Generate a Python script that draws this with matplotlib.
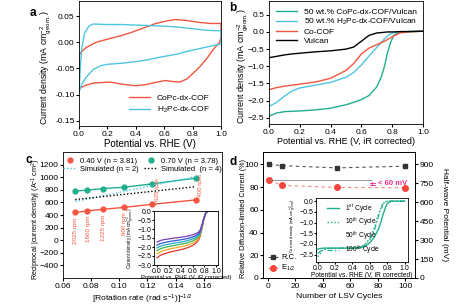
import matplotlib
matplotlib.use("Agg")
import matplotlib.pyplot as plt
from matplotlib.lines import Line2D

plt.rcParams['font.family'] = ['Liberation Sans', 'DejaVu Sans']
plt.rcParams['font.size'] = 6
plt.rcParams['mathtext.fontset'] = 'custom'
plt.rcParams['mathtext.rm'] = 'Liberation Sans'
plt.rcParams['mathtext.it'] = 'Liberation Sans:italic'
plt.rcParams['xtick.direction'] = 'out'
plt.rcParams['ytick.direction'] = 'out'
plt.rcParams['xtick.major.size'] = 2
plt.rcParams['ytick.major.size'] = 2
plt.rcParams['xtick.major.pad'] = 1.5
plt.rcParams['ytick.major.pad'] = 1.2
plt.rcParams['axes.linewidth'] = 0.6

RED = '#F4553F'
CYAN = '#4EC6E0'
GREEN = '#1FAF8E'
MAG = '#E8308A'

# ---- a: CV ----
cv_co_x = [0.0, 0.01, 0.05, 0.12, 0.2, 0.3, 0.38, 0.46, 0.54, 0.62, 0.68, 0.75, 0.85, 0.93, 1.0,
           1.0, 0.99, 0.95, 0.9, 0.85, 0.8, 0.76, 0.71, 0.66, 0.61, 0.55, 0.47, 0.4, 0.3, 0.22, 0.15, 0.1, 0.05, 0.01, 0.0, 0.0]
cv_co_y = [-0.028, -0.02, -0.01, 0.0, 0.006, 0.013, 0.02, 0.028, 0.036, 0.041, 0.0436, 0.042, 0.038, 0.036, 0.036,
           0.01, 0.0, -0.012, -0.031, -0.047, -0.06, -0.07, -0.076, -0.075, -0.073, -0.076, -0.081, -0.083, -0.08, -0.076, -0.077, -0.078, -0.082, -0.087, -0.088, -0.028]
cv_h2_x = [0.0, 0.005, 0.01, 0.02, 0.04, 0.07, 0.1, 0.2, 0.3, 0.4, 0.5, 0.6, 0.7, 0.8, 0.9, 1.0,
           1.0, 0.95, 0.9, 0.8, 0.75, 0.7, 0.6, 0.54, 0.47, 0.4, 0.3, 0.2, 0.15, 0.1, 0.05, 0.02, 0.0]
cv_h2_y = [-0.095, -0.07, -0.045, -0.01, 0.018, 0.031, 0.035, 0.034, 0.034, 0.033, 0.032, 0.031, 0.029, 0.026, 0.023, 0.022,
           -0.003, -0.006, -0.009, -0.015, -0.018, -0.022, -0.027, -0.03, -0.034, -0.037, -0.04, -0.042, -0.045, -0.052, -0.067, -0.08, -0.095]

# ---- b: LSV ----
lsv_x = [0.0, 0.05, 0.1, 0.15, 0.2, 0.3, 0.4, 0.5, 0.55, 0.6, 0.65, 0.7, 0.73, 0.75, 0.77, 0.79, 0.81, 0.85, 0.9, 1.0]
lsv_vulcan = [-0.75, -0.71, -0.67, -0.64, -0.62, -0.58, -0.55, -0.5, -0.44, -0.27, -0.1, -0.03, -0.02, -0.01, 0.0, 0.0, 0.0, 0.01, 0.01, 0.02]
lsv_cocof = [-1.68, -1.62, -1.58, -1.55, -1.52, -1.46, -1.35, -1.12, -0.92, -0.64, -0.47, -0.37, -0.31, -0.27, -0.22, -0.17, -0.12, -0.03, 0.0, 0.02]
lsv_h2pc = [-2.17, -2.05, -1.87, -1.72, -1.63, -1.55, -1.47, -1.32, -1.18, -0.96, -0.7, -0.45, -0.3, -0.2, -0.12, -0.05, -0.02, 0.0, 0.01, 0.02]
lsv_copc = [-2.45, -2.36, -2.32, -2.31, -2.3, -2.27, -2.22, -2.12, -2.05, -1.97, -1.85, -1.6, -1.3, -1.0, -0.6, -0.3, -0.1, 0.0, 0.01, 0.02]

# ---- c: Koutecky-Levich ----
kl_x = [0.0687, 0.0773, 0.0883, 0.1030, 0.1236, 0.1545]
kl_040 = [440, 465, 490, 520, 570, 640]
kl_070 = [780, 795, 820, 840, 895, 985]
sim_x = [0.0687, 0.1545]
sim_n2 = [615, 1010]
sim_n4 = [645, 850]
rpm_labels = ['2025 rpm', '1600 rpm', '1225 rpm', '900 rpm', '625 rpm', '400 rpm']

ins_c_x = [0, 0.05, 0.1, 0.2, 0.3, 0.4, 0.5, 0.6, 0.65, 0.7, 0.73, 0.76, 0.79, 0.82, 0.85, 0.9, 1.0]
ins_c_curves = {
    '#E8322B': [-2.6, -2.48, -2.4, -2.3, -2.22, -2.15, -2.06, -1.92, -1.81, -1.62, -1.4, -0.97, -0.5, -0.15, -0.02, 0, 0],
    '#F5A623': [-2.38, -2.28, -2.21, -2.12, -2.05, -1.99, -1.91, -1.79, -1.69, -1.53, -1.32, -0.92, -0.48, -0.15, -0.02, 0, 0],
    '#3DB34A': [-2.2, -2.11, -2.05, -1.97, -1.91, -1.85, -1.78, -1.67, -1.58, -1.44, -1.25, -0.88, -0.46, -0.14, -0.02, 0, 0],
    '#22AACC': [-2.05, -1.97, -1.91, -1.84, -1.78, -1.73, -1.66, -1.56, -1.48, -1.35, -1.18, -0.84, -0.44, -0.14, -0.02, 0, 0],
    '#3558D8': [-1.9, -1.82, -1.77, -1.7, -1.65, -1.6, -1.54, -1.45, -1.38, -1.27, -1.12, -0.8, -0.42, -0.13, -0.02, 0, 0],
    '#7A3DB8': [-1.72, -1.65, -1.6, -1.55, -1.5, -1.46, -1.41, -1.33, -1.27, -1.18, -1.05, -0.75, -0.4, -0.12, -0.02, 0, 0],
}

# ---- d: stability ----
cycles = [1, 10, 50, 100]
rel_current = [100, 99, 97, 98.5]
e_half = [775, 735, 718, 716]

ins_d_x = [0.0, 0.03, 0.06, 0.1, 0.2, 0.3, 0.4, 0.5, 0.55, 0.6, 0.65, 0.7, 0.73, 0.75, 0.78, 0.8, 0.83, 0.85, 0.9, 1.0]
cyc_1 = [-2.25, -2.22, -2.2, -2.2, -2.2, -2.2, -2.2, -2.18, -2.1, -1.95, -1.7, -1.3, -0.95, -0.65, -0.3, -0.12, -0.02, 0.0, 0.0, 0.0]
cyc_10 = [-2.6, -2.45, -2.3, -2.22, -2.2, -2.2, -2.21, -2.15, -2.0, -1.75, -1.3, -0.6, -0.3, -0.12, -0.02, 0.0, 0.0, 0.0, 0.0, 0.0]
cyc_100 = [-2.45, -2.35, -2.27, -2.22, -2.2, -2.2, -2.21, -2.15, -2.02, -1.8, -1.4, -0.7, -0.35, -0.15, -0.03, 0.0, 0.0, 0.0, 0.0, 0.0]

fig = plt.figure(figsize=(4.61, 3.07), dpi=100)
YLAB = 'Current density (mA cm$^{-2}_{\\rm geom.}$)'


def panel_letter(x, y, s):
    fig.text(x / 461, 1 - y / 307, s, fontsize=8.5, fontweight='bold', va='center', ha='center')


# a
ax = fig.add_axes([79/461, 1-126/307, 142/461, 125/307])
ax.plot(cv_co_x, cv_co_y, color=RED, lw=1, label='CoPc-dx-COF')
ax.plot(cv_h2_x, cv_h2_y, color=CYAN, lw=1, label='H$_2$Pc-dx-COF')
ax.set_xlim(0, 1.0)
ax.set_ylim(-0.16, 0.079)
ax.set_xticks([0, 0.2, 0.4, 0.6, 0.8, 1.0])
ax.set_yticks([-0.15, -0.10, -0.05, 0.0, 0.05])
ax.set_yticklabels(['-0.15', '-0.10', '-0.05', '0.00', '0.05'])
ax.set_xlabel('Potential vs. RHE (V)', fontsize=7, labelpad=1)
ax.set_ylabel(YLAB, fontsize=6.3)
ax.yaxis.set_label_coords(-0.18, 0.47)
ax.legend(loc='lower right', frameon=False, fontsize=6, handlelength=2.6, borderaxespad=0.9, labelspacing=0.35)
panel_letter(33, 13, 'a')

# b
ax = fig.add_axes([269/461, 1-124/307, 154/461, 123/307])
ax.plot(lsv_x, lsv_copc, color=GREEN, lw=1, label='50 wt.% CoPc-dx-COF/Vulcan')
ax.plot(lsv_x, lsv_h2pc, color=CYAN, lw=1, label='50 wt.% H$_2$Pc-dx-COF/Vulcan')
ax.plot(lsv_x, lsv_cocof, color=RED, lw=1, label='Co-COF')
ax.plot(lsv_x, lsv_vulcan, color='black', lw=1, label='Vulcan')
ax.set_xlim(0, 1.0)
ax.set_ylim(-2.68, 0.9)
ax.set_xticks([0, 0.2, 0.4, 0.6, 0.8, 1.0])
ax.set_yticks([-2.5, -2.0, -1.5, -1.0, -0.5, 0.0, 0.5])
ax.set_xlabel('Potential vs. RHE (V, iR corrected)', fontsize=6.5, labelpad=1)
ax.set_ylabel(YLAB, fontsize=6.4)
ax.yaxis.set_label_coords(-0.125, 0.47)
ax.legend(loc='upper left', frameon=False, fontsize=6, handlelength=2.6, borderaxespad=0.4, labelspacing=0.15)
panel_letter(233, 8, 'b')

# c
ax = fig.add_axes([63/461, 1-278/307, 159/461, 126/307])
ax.plot(kl_x, kl_040, color=RED, lw=1, marker='o', ms=3.5)
ax.plot(kl_x, kl_070, color=GREEN, lw=1, marker='o', ms=3.5)
ax.plot(sim_x, sim_n2, color=CYAN, lw=1, ls=(0, (1, 1.5)))
ax.plot(sim_x, sim_n4, color='black', lw=1, ls=(0, (1, 1.5)))
for xv, yv, lab in zip(kl_x, kl_040, rpm_labels):
    if yv < 550:
        ax.text(xv + 0.0005, yv - 80, lab, rotation=90, color=RED, fontsize=4.5, ha='center', va='top')
    else:
        ax.text(xv + 0.0035, yv + 50, lab, rotation=90, color=RED, fontsize=4.5, ha='center', va='bottom')
ax.set_xlim(0.06, 0.173)
ax.set_ylim(-600, 1400)
ax.set_xticks([0.06, 0.08, 0.10, 0.12, 0.14, 0.16])
ax.set_yticks(range(-400, 1201, 200))
ax.set_xlabel('[Rotation rate (rad s$^{-1}$)]$^{-1/2}$', fontsize=6.1, labelpad=2)
ax.set_ylabel('Reciprocal |current density| (A$^{-1}$ cm$^{2}$)', fontsize=5.2)
ax.yaxis.set_label_coords(-0.125, 0.47)
handles = [Line2D([], [], color=RED, marker='o', ls='none', ms=3.5),
           Line2D([], [], color=CYAN, ls=(0, (1, 1.5)), lw=1),
           Line2D([], [], color=GREEN, marker='o', ls='none', ms=3.5),
           Line2D([], [], color='black', ls=(0, (1, 1.5)), lw=1)]
labels = ['0.40 V (n = 3.81)', 'Simulated (n = 2)', '0.70 V (n = 3.78)', 'Simulated  (n = 4)']
ax.legend(handles, labels, ncol=2, loc='upper center', frameon=False, fontsize=5.5, handlelength=1.8,
          columnspacing=0.8, labelspacing=0.1, borderaxespad=0.3, handletextpad=0.4)
panel_letter(29, 160, 'c')

ax = fig.add_axes([154/461, 1-265/307, 64/461, 54/307])
for col, yv in ins_c_curves.items():
    ax.plot(ins_c_x, yv, color=col, lw=0.9)
ax.set_xlim(-0.05, 1.03)
ax.set_ylim(-3.0, 0.0)
ax.set_xticks([0, 0.2, 0.4, 0.6, 0.8, 1.0])
ax.set_yticks([-3.0, -2.5, -2.0, -1.5, -1.0, -0.5, 0.0])
ax.tick_params(labelsize=5, length=1.2, pad=0.8)
ax.set_xlabel('Potential vs. RHE (V, iR corrected)', fontsize=4.2, labelpad=0.5)
ax.set_ylabel(YLAB, fontsize=3.3, labelpad=0.3)

# d
ax = fig.add_axes([263/461, 1-278/307, 152/461, 126/307])
ax.plot(cycles, rel_current, color='#555555', lw=0.8, ls=(0, (3, 3)), marker='s', ms=3.5,
        mfc='#333333', mec='#333333', label='R.C.')
ax.set_xlim(-3.5, 107)
ax.set_ylim(0, 111)
ax.set_xticks([0, 20, 40, 60, 80, 100])
ax.set_yticks([0, 20, 40, 60, 80, 100])
ax.set_xlabel('Number of LSV Cycles', fontsize=6.1, labelpad=2)
ax.set_ylabel('Relative Diffusion-limited Current (%)', fontsize=5.2)
ax.yaxis.set_label_coords(-0.105, 0.47)
ax2 = ax.twinx()
ax2.plot(cycles, e_half, color='#F48A7E', lw=0.8, ls=(0, (3, 3)), marker='o', ms=4,
         mfc='#F4443A', mec='#F4443A', label='E$_{1/2}$')
ax2.set_ylim(0, 999)
ax2.set_yticks([0, 150, 300, 450, 600, 750, 900])
ax2.set_ylabel('Half-wave Potential (mV)', fontsize=6.0, rotation=270, labelpad=10)
ax2.hlines(e_half[0], cycles[0], 76, color='#888888', lw=0.6)
ax2.annotate('', xy=(76, e_half[0] + 4), xytext=(76, e_half[-1] - 4),
             arrowprops=dict(arrowstyle='|-|', color=MAG, lw=0.7, mutation_scale=2))
ax2.text(80, (e_half[0] + e_half[-1]) / 2, '< 60 mV', color=MAG, fontsize=5.5, fontweight='bold', va='center')
h1, l1 = ax.get_legend_handles_labels()
h2, l2 = ax2.get_legend_handles_labels()
ax.legend(h1 + h2, l1 + l2, loc='lower left', frameon=False, fontsize=5.5, handlelength=1.4,
          borderaxespad=0.2, labelspacing=0.25, handletextpad=0.4)
panel_letter(233, 162, 'd')

ax = fig.add_axes([316/461, 1-262/307, 92/461, 64/307])
ax.plot(ins_d_x, cyc_1, color=GREEN, lw=1, label='1$^{st}$ Cycle')
ax.plot(ins_d_x, cyc_10, color=GREEN, lw=1, ls=(0, (1, 1.5)), label='10$^{th}$ Cycle')
ax.plot([], [], color='none', label='50$^{th}$ Cycle')
ax.plot(ins_d_x, cyc_100, color=GREEN, lw=0.9, ls=(0, (4, 2, 1, 2)), label='100$^{th}$ Cycle')
ax.set_xlim(-0.02, 1.04)
ax.set_ylim(-2.85, 0.15)
ax.set_xticks([0, 0.2, 0.4, 0.6, 0.8, 1.0])
ax.set_yticks([-2.5, -2.0, -1.5, -1.0, -0.5, 0.0])
ax.tick_params(labelsize=5, length=1.2, pad=0.8)
ax.set_xlabel('Potential vs. RHE (V, iR corrected)', fontsize=4.8, labelpad=0.5)
ax.set_ylabel(YLAB, fontsize=3, labelpad=0.5, loc='top')
ax.legend(loc='upper left', frameon=False, fontsize=4.8, handlelength=1.8, borderaxespad=0.2,
          labelspacing=0.1, bbox_to_anchor=(0.08, 1.0))

fig.savefig('out.png', dpi=100)
